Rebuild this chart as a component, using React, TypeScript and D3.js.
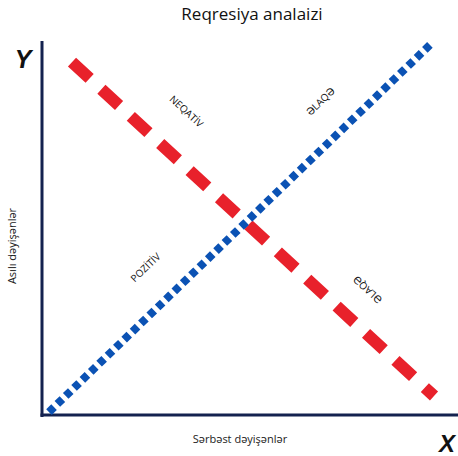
import React from "react";
import * as d3 from "d3";

const title = "Reqresiya analaizi";
const xAxisLabel = "Sərbəst dəyişənlər";
const yAxisLabel = "Asılı dəyişənlər";
const axisLetters = ["X", "Y"];

// positive relationship (blue) and negative relationship (red), data units 0..100
const positiveX = [1.75, 97.25];
const positiveY = [0.8, 99.5];
const negativeX = [7.5, 98];
const negativeY = [94.6, 5.1];

const lineLabels = ["NEQATİV", "ƏLAQƏ", "POZİTİV", "ƏLAQƏ"];

const W = 458;
const H = 456;

export default function App() {
  const x = d3.scaleLinear().domain([0, 100]).range([42, 442]);
  const y = d3.scaleLinear().domain([0, 100]).range([415, 42]);
  const line = d3
    .line<[number, number]>()
    .x((d) => x(d[0]))
    .y((d) => y(d[1]));

  const pos: [number, number][] = positiveX.map((v, i) => [v, positiveY[i]]);
  const neg: [number, number][] = negativeX.map((v, i) => [v, negativeY[i]]);

  const angNeg =
    (Math.atan2(y(negativeY[1]) - y(negativeY[0]), x(negativeX[1]) - x(negativeX[0])) * 180) /
    Math.PI;
  const angPos =
    (Math.atan2(y(positiveY[1]) - y(positiveY[0]), x(positiveX[1]) - x(positiveX[0])) * 180) /
    Math.PI;

  const labelFont = "'Open Sans', 'DejaVu Sans', sans-serif";

  return (
    <svg
      width={W}
      height={H}
      style={{ position: "absolute", left: 0, top: 0, background: "#fff" }}
      fontFamily={labelFont}
    >
      <text x={252} y={20} textAnchor="middle" fontSize={17} fill="#111">
        {title}
      </text>

      {/* axes */}
      <line x1={x(0)} y1={41} x2={x(0)} y2={417} stroke="#14224f" strokeWidth={3} />
      <line x1={40.5} y1={y(0)} x2={W} y2={y(0)} stroke="#14224f" strokeWidth={3} />

      <text
        x={23}
        y={68}
        textAnchor="middle"
        fontSize={25}
        fontWeight="bold"
        fontStyle="italic"
        fontFamily="'Liberation Sans', Arial, sans-serif"
        fill="#111"
      >
        {axisLetters[1]}
      </text>
      <text
        x={447}
        y={452}
        textAnchor="middle"
        fontSize={24}
        fontWeight="bold"
        fontStyle="italic"
        fontFamily="'Liberation Sans', Arial, sans-serif"
        fill="#111"
      >
        {axisLetters[0]}
      </text>

      <text x={240} y={443} textAnchor="middle" fontSize={11} fill="#222">
        {xAxisLabel}
      </text>
      <text
        transform="translate(16,246) rotate(-90)"
        textAnchor="middle"
        fontSize={11}
        fill="#222"
      >
        {yAxisLabel}
      </text>

      {/* regression lines */}
      <path
        d={line(neg) || ""}
        fill="none"
        stroke="#e8212b"
        strokeWidth={12}
        strokeDasharray="24 16"
      />
      <path
        d={line(pos) || ""}
        fill="none"
        stroke="#0b52b4"
        strokeWidth={8}
        strokeDasharray="7 4.6"
      />

      {/* line annotations */}
      <text
        transform={`translate(184,114) rotate(${angNeg})`}
        textAnchor="middle"
        fontSize={10}
        fill="#111"
      >
        {lineLabels[0]}
      </text>
      <text
        transform={`translate(323,104) rotate(${angPos})`}
        textAnchor="middle"
        fontSize={10}
        fill="#111"
      >
        {lineLabels[1]}
      </text>
      <text
        transform={`translate(148,270) rotate(${angPos})`}
        textAnchor="middle"
        fontSize={10}
        fill="#111"
      >
        {lineLabels[2]}
      </text>
      <text
        transform={`translate(370,287) rotate(${angNeg + 180})`}
        textAnchor="middle"
        fontSize={10}
        fill="#111"
      >
        {lineLabels[3]}
      </text>
    </svg>
  );
}
